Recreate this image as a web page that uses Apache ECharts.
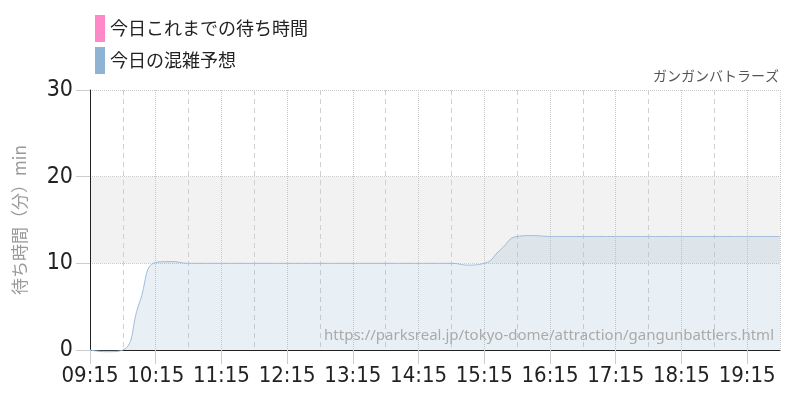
<!DOCTYPE html>
<html>
<head>
<meta charset="utf-8">
<script src="https://cdn.jsdelivr.net/npm/echarts@6/dist/echarts.min.js"></script>
<style>html,body{margin:0;padding:0;background:#fff}#c{width:800px;height:400px}</style>
</head>
<body>
<div id="c"></div>
<script>
const seriesNames = ['今日これまでの待ち時間', '今日の混雑予想'];
const attractionName = 'ガンガンバトラーズ';
const yAxisName = '待ち時間（分）min';
const sourceUrl = 'https://parksreal.jp/tokyo-dome/attraction/gangunbattlers.html';
const tickLabels = ['09:15','10:15','11:15','12:15','13:15','14:15','15:15','16:15','17:15','18:15','19:15'];
const times = ['09:15','09:30','09:45','10:00','10:15','10:30','10:45','11:00','11:15','11:30','11:45','12:00','12:15','12:30','12:45','13:00','13:15','13:30','13:45','14:00','14:15','14:30','14:45','15:00','15:15','15:30','15:45','16:00','16:15','16:30','16:45','17:00','17:15','17:30','17:45','18:00','18:15','18:30','18:45','19:00','19:15','19:30','19:45'];
const forecast = [0,-0.2,0,5.4,10.1,10.2,10,10,10,10,10,10,10,10,10,10,10,10,10,10,10,10,10,9.8,10,11.6,13.1,13.2,13.1,13.1,13.1,13.1,13.1,13.1,13.1,13.1,13.1,13.1,13.1,13.1,13.1,13.1,13.1];
const actual = [];

function toMin(t){const [h,m]=t.split(':').map(Number);return (h*60+m)-(9*60+15);}

const numFont = "'DejaVu Sans Condensed','Liberation Sans Narrow',sans-serif";
const jpFont = "'Noto Sans CJK JP',sans-serif";

const chart = echarts.init(document.getElementById('c'));
chart.setOption({
  animation:false,
  grid:{left:90,right:20,top:90,bottom:50},
  legend:{
    orient:'vertical', left:90, top:10, itemGap:5,
    itemWidth:10, itemHeight:27, icon:'rect',
    textStyle:{fontFamily:jpFont,fontSize:18,color:'#222'},
    data:seriesNames
  },
  graphic:[
    {type:'text', right:21, top:69, style:{text:attractionName, font:"14px 'Noto Sans CJK JP'", fill:'#555'}},
    {type:'text', right:26, top:328, style:{text:sourceUrl, font:"15px 'Noto Sans','Noto Sans CJK JP'", fill:'#aaa'}, z:10}
  ],
  xAxis:{
    type:'value', min:0, max:630, interval:60,
    axisLine:{lineStyle:{color:'#222',width:1}},
    axisTick:{show:true,length:14,lineStyle:{color:'#ccc'}},
    axisLabel:{formatter:v=>tickLabels[v/60]||'', fontFamily:numFont, fontSize:22, color:'#222', margin:15, showMaxLabel:false},
    splitLine:{show:true,lineStyle:{type:'dotted',color:'#c8c8c8'}},
    minorTick:{show:false,splitNumber:2},
    minorSplitLine:{show:true,lineStyle:{type:[5,4],color:'#d0d0d0'}}
  },
  yAxis:{
    type:'value', min:0, max:30, interval:10,
    name:yAxisName, nameLocation:'middle', nameGap:62,
    nameTextStyle:{fontFamily:jpFont,fontSize:17,color:'#999'},
    axisLine:{show:true,lineStyle:{color:'#222',width:1}},
    axisTick:{show:true,length:14,lineStyle:{color:'#ccc'}},
    axisLabel:{fontFamily:numFont,fontSize:23,color:'#222',margin:17},
    splitLine:{show:true,lineStyle:{type:'dotted',color:'#c8c8c8'}},
    splitArea:{show:true,areaStyle:{color:['rgba(0,0,0,0)','#f2f2f2','rgba(0,0,0,0)']}}
  },
  series:[
    {name:seriesNames[0], type:'line', color:'#ff88c8', data:actual.map((v,i)=>[toMin(times[i]),v]), showSymbol:false},
    {name:seriesNames[1], type:'line', color:'#8fb3d3', smooth:true, showSymbol:false, clip:false,
     lineStyle:{width:1,color:'#9dbcdb'},
     areaStyle:{color:'rgba(143,179,211,0.29)'},
     data:forecast.map((v,i)=>[toMin(times[i]),v])}
  ]
});
</script>
</body>
</html>
